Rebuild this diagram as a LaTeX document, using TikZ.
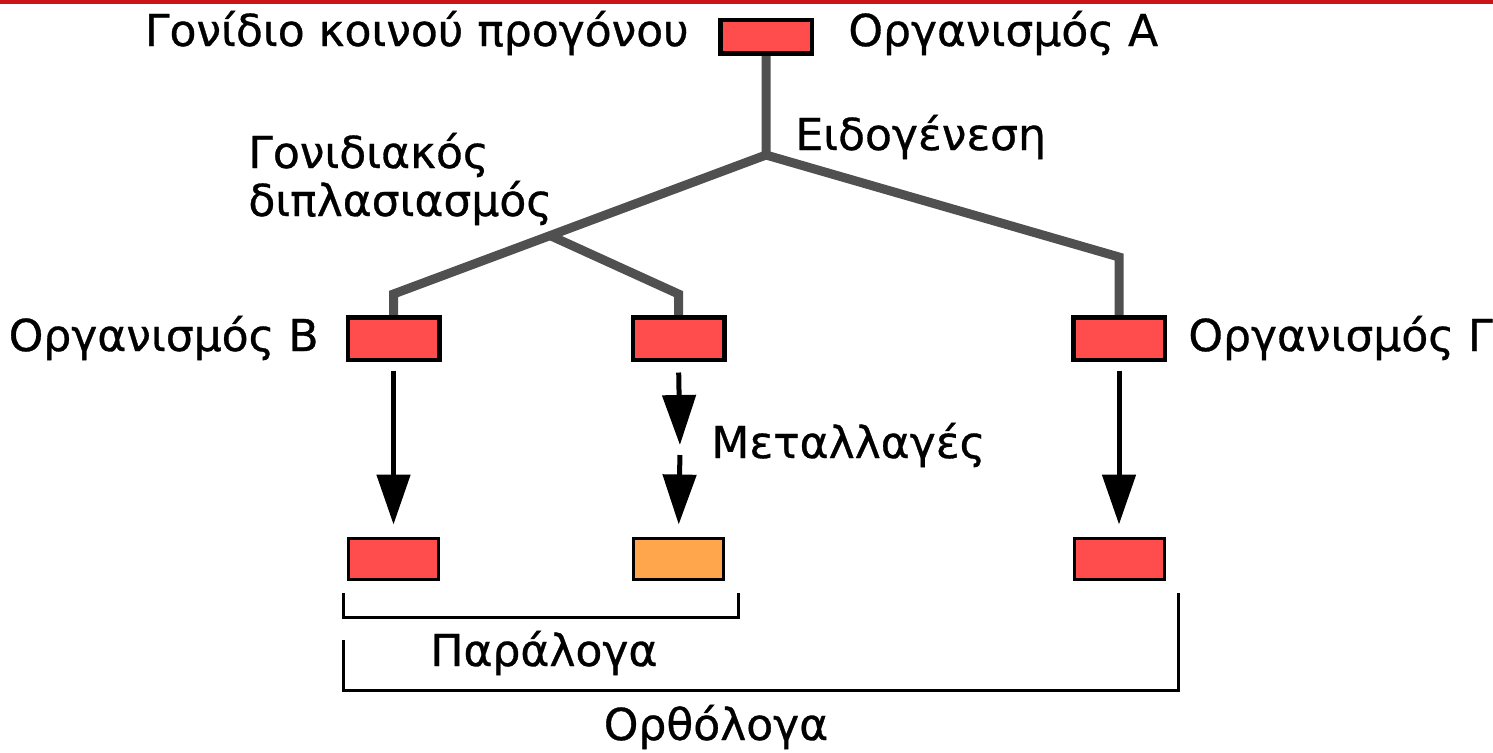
\documentclass[tikz,border=0pt]{standalone}
\usepackage{fontspec}
\setmainfont{DejaVu Sans}
\newfontfamily\lblfont{DejaVu Sans}[FakeBold=0.7]
\usetikzlibrary{arrows.meta}
\definecolor{boxred}{HTML}{FF4D4D}
\definecolor{boxorange}{HTML}{FFA64D}
\definecolor{treegray}{HTML}{505050}
\definecolor{topred}{HTML}{CC1414}
\begin{document}
\begin{tikzpicture}[x=0.5pt,y=-0.5pt,
  gene/.style={draw=black, line width=1.5pt, fill=boxred, minimum width=45pt, minimum height=20.5pt, inner sep=0pt},
  mutgene/.style={gene, fill=boxorange},
  lbl/.style={font=\lblfont\fontsize{22}{24}\selectfont, inner sep=0pt},
  tree/.style={treegray, line width=4.5pt, line join=miter},
  evo/.style={line width=2.5pt, -{Triangle[length=25pt,width=16.5pt]}},
  brk/.style={line width=1.5pt}]
\useasboundingbox (0,0) rectangle (1493,752);
\fill[topred] (0,0) rectangle (1493,3.5);

% genes
\node[gene, minimum height=16pt] (A) at (766,36.5) {};
\node[gene] (B) at (393.5,338.5) {};
\node[gene] (M) at (678.5,338.5) {};
\node[gene] (G) at (1119,338.5) {};
\node[gene] (Bc) at (393.5,558.5) {};
\node[mutgene] (Mc) at (678.5,558.5) {};
\node[gene] (Gc) at (1119,558.5) {};

% tree coordinates
\coordinate (j1) at (766,155);
\coordinate (kB) at (393.5,294);
\coordinate (j2) at (550,235.5);
\coordinate (kM) at (678.5,294);
\coordinate (kG) at (1119,257);
\draw[tree, shorten >=0.75pt] (A.south) -- (j1) -- (kB) -- (B.north);
\draw[tree, shorten >=0.75pt] (j1) -- (kG) -- (G.north);
\draw[tree, shorten >=0.75pt] (j2) -- (kM) -- (M.north);

% redraw boxes' borders on top
\foreach \n in {A,B,M,G}{\draw[line width=1.5pt] (\n.south west) rectangle (\n.north east);}

% arrows
\coordinate (mid) at (680,450);
\draw[evo, shorten <=5pt, shorten >=6pt] (B.south) -- (Bc.north);
\draw[evo, shorten <=5pt, shorten >=6pt] (G.south) -- (Gc.north);
\draw[evo, shorten <=6pt, shorten >=2.5pt] (M.south) -- (mid);
\draw[evo, shorten <=2.5pt, shorten >=6pt] (mid) -- (Mc.north);

% brackets
\coordinate (pa1) at (343,593);
\coordinate (pa2) at (343,617);
\coordinate (pa3) at (738,617);
\coordinate (pa4) at (738,593);
\draw[brk] (pa1) -- (pa2) -- (pa3) -- (pa4);
\coordinate (or1) at (343,640);
\coordinate (or2) at (343,690);
\coordinate (or3) at (1178,690);
\coordinate (or4) at (1178,593);
\draw[brk] (or1) -- (or2) -- (or3) -- (or4);

% labels
\node[lbl, anchor=base east] (lanc) at (689,46) {Γονίδιο κοινού προγόνου};
\node[lbl, anchor=base west] (lA) at (848,46) {Οργανισμός Α};
\node[lbl, anchor=base west] (lspec) at (795,150) {Ειδογένεση};
\node[lbl, anchor=base west] (ldup1) at (248,168) {Γονιδιακός};
\node[lbl, anchor=base west] (ldup2) at (248,216) {διπλασιασμός};
\node[lbl, anchor=base east] (lB) at (319,351) {Οργανισμός Β};
\node[lbl, anchor=base west] (lG) at (1188,351) {Οργανισμός Γ};
\node[lbl, anchor=base west] (lmut) at (711,458) {Μεταλλαγές};
\node[lbl, anchor=base west] (lpar) at (430,666) {Παράλογα};
\node[lbl, anchor=base] (lorth) at (716,740) {Ορθόλογα};
\end{tikzpicture}
\end{document}
